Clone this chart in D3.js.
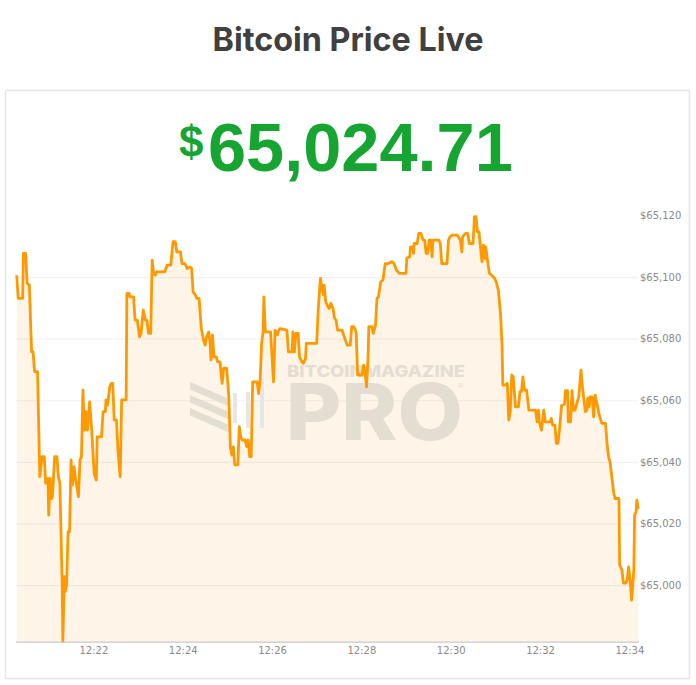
<!DOCTYPE html>
<html>
<head>
<meta charset="utf-8">
<script src="https://cdn.jsdelivr.net/npm/d3@7"></script>
<style>
  html, body { margin: 0; padding: 0; background: #fff; }
  svg { display: block; }
</style>
</head>
<body>
<div id="chart"></div>
<script>
// seconds after 12:20:00
const secs = [
  17,19,25,26,29,31,34,37,39,41, 45,48,51,54,56,59,60,62,64,65,
  68,71,73,75,78,79,81,82,84,86, 88,90,92,94,96,100,102,104,106,108,
  110,112,115,118,121,124,125,131,133,136, 137,139,142,144,146,148,151,153,156,158,
  164,165,168,169,174,176,179,182,184,187, 190,192,194,197,199,201,203,205,216,219,
  224,227,230,232,237,239,243,246,250,252, 254,257,259,262,265,268,270,272,275,277,
  278,280,282,285,287,290,293,295,299,302, 304,306,308,310,314,316,318,320,324,326,
  328,330,332,334,340,342,344,346,348,349, 351,358,362,364,367,369,371,380,382,387,
  388,390,392,395,397,400,402,405,406,420, 422,425,427,429,430,432,435,437,439,442,
  444,446,448,454,457,461,465,467,470,473, 475,481,483,485,487,489,490,494,496,499,
  501,503,506,509,512,516,521,524,527,531, 540,541,545,546,549,550,551,555,557,560,
  563,565,567,569,571,573,575,576,584,586, 588,595,597,599,602,609,613,615,616,620,
  623,625,630,632,634,636,638,640,642,644, 646,647,650,652,655,659,661,664,667,669,
  670,673,676,678,680,682,684,687,691,693, 695,697,699,702,705,714,716,718,719,722,
  725,727,734,735,737,740,742,744,746,749, 753,754,757,758,761,763,765,767,770,772,
  775,777,779,781,783,784,786,787,790,792, 794,797,799,801,803,808,810,812,814,817,
  819,821,826,827,830,832,835,837,839,841, 843,846,847,849,850,852
];
const prices = [
  65100.6,65093.1,65093.1,65107.7,65107.7,65098.0,65097.4,65075.7,65075.7,65069.3,
  65069.3,65035.2,65041.7,65041.7,65033.0,65034.6,65022.7,65034.6,65028.1,65028.7,
  65041.7,65041.7,65035.2,65033.0,65001.6,64981.6,65002.7,64997.8,65000.0,65017.3,
  65017.3,65040.6,65032.5,65038.4,65034.6,65028.7,65040.6,65041.7,65063.3,65050.3,
  65056.3,65050.3,65059.5,65049.3,65036.3,65034.1,65048.1,65048.1,65056.3,65056.3,
  65060.1,65058.4,65064.4,65065.5,65065.5,65053.6,65053.6,65043.8,65035.2,65060.1,
  65060.1,65094.7,65094.7,65093.6,65093.6,65086.0,65086.0,65080.6,65081.7,65089.3,
  65086.0,65086.0,65081.7,65081.7,65105.5,65101.2,65100.6,65101.7,65101.7,65103.9,
  65103.9,65111.5,65111.5,65108.2,65108.2,65104.4,65104.4,65102.8,65103.3,65102.8,
  65095.2,65094.2,65093.1,65093.1,65083.3,65079.5,65077.9,65080.6,65082.2,65077.9,
  65073.1,65081.2,65074.1,65074.1,65072.5,65072.5,65065.5,65070.4,65070.4,65061.1,
  65044.9,65042.2,65044.9,65039.0,65039.0,65051.4,65048.1,65047.1,65047.1,65044.9,
  65047.1,65041.7,65041.7,65066.0,65066.0,65062.2,65066.6,65078.5,65082.2,65093.6,
  65082.2,65082.2,65066.0,65082.8,65081.2,65082.8,65083.3,65082.8,65075.7,65075.7,
  65082.2,65075.7,65081.7,65081.7,65074.1,65072.5,65072.0,65073.6,65078.5,65078.5,
  65089.3,65099.6,65096.3,65094.2,65097.4,65092.0,65090.4,65089.8,65091.5,65089.8,
  65086.6,65086.0,65082.8,65082.8,65080.6,65077.9,65077.9,65083.9,65083.9,65082.2,
  65068.2,65068.2,65071.4,65068.7,65064.4,65074.1,65083.9,65083.9,65081.7,65084.4,
  65093.1,65093.6,65098.5,65099.0,65104.4,65104.4,65105.0,65104.4,65102.3,65101.2,
  65101.2,65106.1,65106.6,65109.8,65109.8,65107.7,65110.9,65110.9,65114.2,65114.2,
  65112.0,65112.0,65107.7,65107.7,65112.0,65112.0,65106.6,65112.0,65112.0,65110.9,
  65104.4,65104.4,65112.0,65113.1,65113.6,65113.6,65112.0,65108.2,65113.1,65114.2,
  65114.2,65110.9,65110.9,65119.6,65119.6,65114.7,65114.7,65109.8,65105.0,65110.4,
  65106.1,65109.8,65104.4,65101.2,65100.6,65099.6,65098.5,65095.8,65087.7,65077.9,
  65064.9,65064.9,65065.5,65053.6,65056.3,65068.2,65067.6,65057.9,65057.9,65062.8,
  65062.8,65067.6,65063.3,65063.3,65056.8,65056.8,65053.0,65056.8,65053.0,65050.3,
  65056.8,65053.0,65053.0,65054.1,65051.9,65051.9,65046.0,65046.0,65050.3,65058.4,
  65058.8,65063.1,65063.1,65053.0,65053.0,65063.1,65056.8,65056.8,65059.5,65061.1,
  65069.8,65064.4,65060.1,65056.3,65056.8,65060.6,65057.9,65061.1,65061.1,65054.6,
  65061.7,65058.4,65055.7,65054.1,65052.5,65052.5,65046.0,65041.7,65040.0,65034.1,
  65029.8,65028.1,65028.1,65006.5,65004.9,65000.6,65000.6,65001.6,65005.9,65001.6,
  64995.1,65004.9,65022.7,65023.8,65027.6,65024.71
];
const yTicks = [65000, 65020, 65040, 65060, 65080, 65100, 65120];
const xTicks = ['12:22', '12:24', '12:26', '12:28', '12:30', '12:32', '12:34'];
const title = 'Bitcoin Price Live';
const livePrice = 65024.71;

const W = 696, H = 685;
const PLOT = { left: 16.7, right: 638.3, top: 215.5, bottom: 641.7 };

const parseHM = d3.timeParse('%H:%M');
const start = d3.timeParse('%H:%M:%S')('12:20:00');
const data = secs.map((s, i) => ({ t: d3.timeSecond.offset(start, s), p: prices[i] }));

const svg = d3.select('#chart').append('svg')
  .attr('width', W).attr('height', H)
  .attr('viewBox', `0 0 ${W} ${H}`);

// title
svg.append('text')
  .attr('x', 348).attr('y', 51)
  .attr('text-anchor', 'middle')
  .attr('font-family', 'Inter, sans-serif')
  .attr('font-weight', 700)
  .attr('font-size', 32.3)
  .attr('fill', '#404040')
  .text(title);

// card
svg.append('rect')
  .attr('x', 5.5).attr('y', 90.5).attr('width', 684).attr('height', 588)
  .attr('fill', '#fff').attr('stroke', '#e6e6e6').attr('stroke-width', 1.5);

// big price
const priceParts = d3.format(',.2f')(livePrice);
svg.append('text')
  .attr('x', 179).attr('y', 157)
  .attr('font-family', 'Liberation Sans, Arial, sans-serif')
  .attr('font-weight', 700).attr('font-size', 44)
  .attr('fill', '#17a532')
  .text('$');
svg.append('text')
  .attr('x', 208).attr('y', 170.5)
  .attr('font-family', 'Liberation Sans, Arial, sans-serif')
  .attr('font-weight', 700).attr('font-size', 68.5)
  .attr('fill', '#17a532')
  .text(priceParts);

// scales
const x = d3.scaleTime()
  .domain(d3.extent(data, d => d.t))
  .range([PLOT.left, PLOT.right]);
const y = d3.scaleLinear()
  .domain([d3.min(prices), d3.max(yTicks)])
  .range([PLOT.bottom, PLOT.top]);

// area fill under the line
const area = d3.area()
  .x(d => x(d.t))
  .y0(PLOT.bottom)
  .y1(d => y(d.p));
svg.append('path')
  .attr('d', area(data))
  .attr('fill', '#fef4e8');

// gridlines (top tick has no line)
const grid = svg.append('g')
  .attr('transform', `translate(${PLOT.left},0)`)
  .call(d3.axisLeft(y)
    .tickValues(yTicks.slice(0, -1))
    .tickSize(-(PLOT.right - PLOT.left))
    .tickFormat(''));
grid.select('.domain').remove();
grid.selectAll('line').attr('stroke', '#000').attr('stroke-opacity', 0.055).attr('stroke-width', 1.2);

// watermark logo
const wm = svg.append('g').attr('fill', '#e4ddd2');
[382, 395, 408].forEach(t => {
  wm.append('path').attr('d', `M190,${t} L228,${t + 16.5} L228,${t + 24} L190,${t + 7.5} Z`);
});
[[235, 393, 30], [248, 392, 36], [262, 378, 50]].forEach(([cx, cy, h]) => {
  wm.append('rect').attr('x', cx - 2).attr('y', cy).attr('width', 4).attr('height', h)
    .attr('fill', '#e6e6e6');
});
// wordmark as one text block
const mark = wm.append('text')
  .attr('font-family', 'Inter, sans-serif').attr('font-weight', 800);
mark.append('tspan')
  .attr('x', 287).attr('y', 377).attr('font-size', 16)
  .attr('textLength', 178).attr('lengthAdjust', 'spacingAndGlyphs')
  .text('BITCOINMAGAZINE');
mark.append('tspan')
  .attr('x', 286).attr('y', 440).attr('font-size', 78)
  .attr('textLength', 177).attr('lengthAdjust', 'spacingAndGlyphs')
  .text('PRO');
mark.append('tspan')
  .attr('x', 458).attr('y', 389).attr('font-size', 8).attr('font-weight', 400)
  .text('®');

// price line
const line = d3.line()
  .x(d => x(d.t))
  .y(d => y(d.p));
svg.append('path')
  .attr('d', line(data))
  .attr('fill', 'none')
  .attr('stroke', '#ff9900')
  .attr('stroke-width', 2.8)
  .attr('stroke-linejoin', 'round');

// x axis
const xAxis = svg.append('g')
  .attr('transform', `translate(0,${PLOT.bottom})`)
  .call(d3.axisBottom(x)
    .tickValues(xTicks.map(s => parseHM(s)))
    .tickSize(0)
    .tickPadding(5)
    .tickFormat(d3.timeFormat('%H:%M')));
xAxis.select('.domain').attr('stroke', '#c8c8c8').attr('stroke-width', 1.2)
  .attr('d', `M${PLOT.left - 0.7},0.5H${PLOT.right + 0.7}`);
xAxis.selectAll('text')
  .attr('font-family', 'DejaVu Sans, Verdana, sans-serif')
  .attr('font-size', 10)
  .attr('fill', '#8a8a8a');

// y axis labels on the right
const yAxis = svg.append('g')
  .attr('transform', `translate(${PLOT.right},0)`)
  .call(d3.axisRight(y)
    .tickValues(yTicks)
    .tickSize(0)
    .tickPadding(1.7)
    .tickFormat(d => '$' + d3.format(',')(d)));
yAxis.select('.domain').remove();
yAxis.selectAll('text')
  .attr('font-family', 'DejaVu Sans, Verdana, sans-serif')
  .attr('font-size', 10)
  .attr('fill', '#8a8a8a');
</script>
</body>
</html>
